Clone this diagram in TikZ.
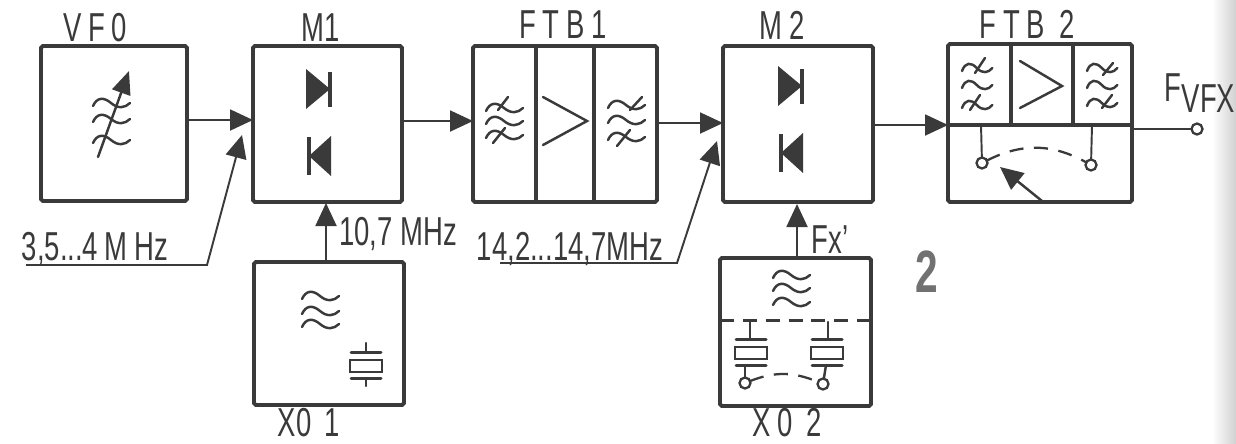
\documentclass[tikz,border=0pt]{standalone}
\usepackage{fontspec}
\setmainfont[FakeStretch=0.68]{Liberation Sans}
\usetikzlibrary{arrows.meta}
\definecolor{inkgrey}{HTML}{3A3A3A}
\definecolor{pagegrey}{HTML}{BDBDBD}
\tikzset{
  blockbox/.style={draw=inkgrey, line width=2.2pt, rounded corners=1pt, outer sep=0pt, inner sep=0pt},
  blocklabel/.style={text=inkgrey, inner sep=0pt, font=\fontsize{23}{23}\selectfont},
  signal/.style={draw=inkgrey, line width=1.1pt, -{Triangle[length=0.46cm,width=0.42cm]}},
  plainline/.style={draw=inkgrey, line width=1.1pt},
  divider/.style={draw=inkgrey, line width=2.2pt},
  symbol/.style={draw=inkgrey, line width=1.4pt, line cap=round},
  contact/.style={circle, draw=inkgrey, line width=1.3pt, fill=white, minimum size=0.22cm, inner sep=0pt, outer sep=0pt},
  switchline/.style={draw=inkgrey, line width=1.3pt, dash pattern=on 8pt off 6pt},
  wave/.pic={\draw[symbol] (0,0) .. controls (4,-9) and (11,-9) .. (18,-3) .. controls (25,3) and (32,2) .. (37,-3);},
  diodepair/.pic={
    \fill[inkgrey] (0,0) -- (0,40) -- (24,20) -- cycle;
    \draw[inkgrey, line width=2.2pt] (24,3) -- (24,38);
    \fill[inkgrey] (25,67) -- (25,107) -- (3,87) -- cycle;
    \draw[inkgrey, line width=2.2pt] (3,68) -- (3,106);
  },
  crystal/.pic={
    \draw[symbol, line width=1.7pt] (-15,0) -- (15,0);
    \draw[symbol] (-16,8) rectangle (16,20);
    \draw[symbol, line width=1.7pt] (-15,26) -- (15,26);
  }
}
\begin{document}
\begin{tikzpicture}[x=0.02cm, y=-0.02cm]
\useasboundingbox (0,0) rectangle (1236,443);
\shade[left color=white, right color=pagegrey!70] (1212,0) rectangle (1236,443);
\node[blockbox, minimum width=2.92cm, minimum height=3.10cm] (vfo) at (114,123.5){};
\node[blockbox, minimum width=2.98cm, minimum height=3.12cm] (mix1) at (327.5,124){};
\node[blockbox, minimum width=3.00cm, minimum height=2.86cm] (xo1) at (329,333.5){};
\node[blockbox, minimum width=3.68cm, minimum height=3.12cm] (ftb1) at (565,124){};
\node[blockbox, minimum width=3.00cm, minimum height=3.12cm] (mix2) at (798,124){};
\node[blockbox, minimum width=3.02cm, minimum height=2.96cm] (xo2) at (795.5,332){};
\node[blockbox, minimum width=3.68cm, minimum height=3.16cm] (ftb2) at (1040,123){};
\node[blocklabel] (vfolabel) at (95,28){V\,F\,0};
\node[blocklabel] (mix1label) at (321,28){M1};
\node[blocklabel] (ftb1label) at (563,25){F\,T\,B\,1};
\node[blocklabel] (mix2label) at (782,25){M\,2};
\node[blocklabel] (ftb2label) at (1027,24){F\,T\,B\, 2};
\node[blocklabel] (xo1label) at (309,423){X0\,\,1};
\node[blocklabel] (xo2label) at (787,423){X\,0\,\,2};
\node[blocklabel] (freq1label) at (95,249){3,5...4\,M\,Hz};
\node[blocklabel] (freq2label) at (398,234){10,7 MHz};
\node[blocklabel] (freq3label) at (570,249){14,2...14,7MHz};
\node[blocklabel] (fxlabel) at (830,240){Fx'};
\node[blocklabel] (outlabel) at (1200,93){F\raisebox{-.55ex}{VFX}};
\node[blocklabel, text=pagegrey!60!black, font=\fontsize{34}{34}\selectfont\bfseries] (pagenum) at (927,272){2};
\coordinate (in1) at (253,120);
\coordinate (in2) at (473,121);
\coordinate (in3) at (723,123);
\coordinate (in4) at (948,125);
\coordinate (free1) at (26,265);
\coordinate (bend1) at (207,265);
\coordinate (tip1) at (242,135);
\coordinate (free2) at (500,263);
\coordinate (bend2) at (677,263);
\coordinate (tip2) at (717,141);
\draw[signal] (vfo.east |- in1) -- (in1);
\draw[signal] (mix1.east |- in2) -- (in2);
\draw[signal] (ftb1.east |- in3) -- (in3);
\draw[signal] (mix2.east |- in4) -- (in4);
\draw[signal] (free1) -- (bend1) -- (tip1);
\draw[signal] (free2) -- (bend2) -- (tip2);
\draw[signal] (xo1.north -| 326,0) -- (326,203);
\draw[signal] (xo2.north -| 797,0) -- (797,204);
\node[contact] (fout) at (1197,129){};
\draw[plainline] (ftb2.east |- fout) -- (fout);
\draw[divider] (536,46) -- (536,202);
\draw[divider] (594,46) -- (594,202);
\draw[symbol] (543,97) -- (587,121) -- (543,145);
\pic at (486,111) {wave};
\pic at (486,124) {wave};
\pic at (486,138) {wave};
\draw[symbol] (498,110) -- (508,97);
\draw[symbol] (493,143) -- (505,128);
\pic at (608,108) {wave};
\pic at (608,123) {wave};
\pic at (608,140) {wave};
\draw[symbol] (630,110) -- (642,97);
\draw[symbol] (617,146) -- (630,130);
\pic at (306,69) {diodepair};
\pic at (778,66) {diodepair};
\pic at (93,106) {wave};
\pic at (93,122) {wave};
\pic at (93,143) {wave};
\draw[symbol, -{Triangle[length=0.46cm,width=0.38cm]}] (98,157) -- (129,71);
\pic at (302,299) {wave};
\pic at (302,314) {wave};
\pic at (302,327) {wave};
\pic at (366,352) {crystal};
\draw[symbol] (366,343) -- (366,352);
\draw[symbol] (366,378) -- (366,386);
\draw[divider, line width=1.7pt, dash pattern=on 8pt off 5pt] (xo2.west |- 0,320) -- (xo2.east |- 0,320);
\pic at (773,278) {wave};
\pic at (773,291) {wave};
\pic at (773,305) {wave};
\pic at (751,339) {crystal};
\pic at (827,339) {crystal};
\draw[symbol] (750,322) -- (750,339);
\draw[symbol] (828,322) -- (828,339);
\node[contact] (sw1a) at (745,383){};
\node[contact] (sw1b) at (823,384){};
\draw[symbol] (sw1a) -- (745,365);
\draw[symbol] (sw1b) -- (826,365);
\draw[switchline] (sw1a) to[bend left=22] (sw1b);
\draw[divider] (ftb2.west |- in4) -- (ftb2.east |- in4);
\draw[divider] (1011,44) -- (1011,125);
\draw[divider] (1073,44) -- (1073,125);
\draw[symbol] (1020,61) -- (1062,86) -- (1020,108);
\pic[xscale=.82] at (962,71) {wave};
\pic[xscale=.82] at (962,88) {wave};
\pic[xscale=.82] at (962,108) {wave};
\draw[symbol] (975,73) -- (985,58);
\draw[symbol] (970,110) -- (980,95);
\pic[xscale=.82] at (1087,71) {wave};
\pic[xscale=.82] at (1087,88) {wave};
\pic[xscale=.82] at (1087,106) {wave};
\draw[symbol] (1103,75) -- (1113,63);
\draw[symbol] (1102,108) -- (1112,95);
\node[contact] (sw2a) at (982,163){};
\node[contact] (sw2b) at (1091,165){};
\draw[plainline] (sw2a) -- (981,125);
\draw[plainline] (sw2b) -- (1092,125);
\draw[switchline] (sw2a) to[bend left=28] (sw2b);
\draw[signal, line width=1.4pt] (1042,201) -- (1000,167);
\end{tikzpicture}
\end{document}
